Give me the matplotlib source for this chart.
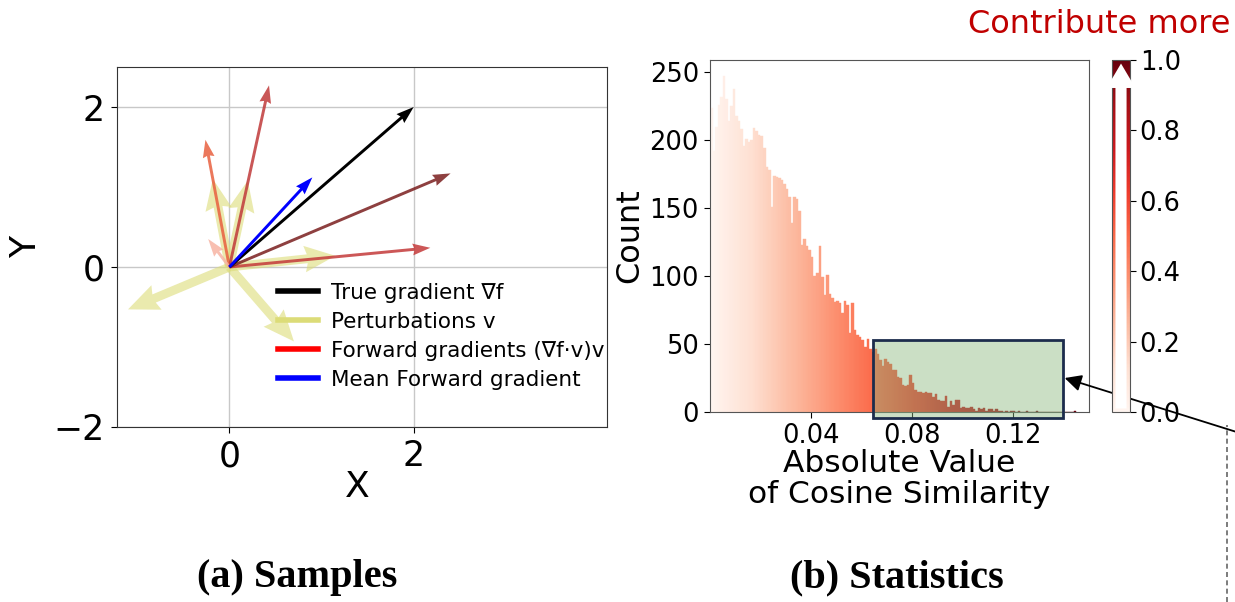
import numpy as np
import matplotlib
matplotlib.use("Agg")
import matplotlib.pyplot as plt
from matplotlib.colors import Normalize
from matplotlib.cm import ScalarMappable
from matplotlib.patches import Rectangle
from matplotlib.lines import Line2D

# ---- (a) sample vectors ----
true_grad = (2.0, 2.0)
mean_grad = (0.9, 1.12)
pert_u = [-0.18, 0.20, 1.15, -1.10, 0.70]
pert_v = [1.10, 1.08, 0.14, -0.53, -0.93]
fwd_u = [-0.26, 0.43, 2.18, 2.40, -0.23]
fwd_v = [1.59, 2.27, 0.24, 1.17, 0.35]
fwd_colors = ["#e8603f", "#c03a3a", "#c43a3a", "#7a1e1e", "#f7b4a4"]
legend_labels = ["True gradient \u2207f", "Perturbations v",
                 "Forward gradients (\u2207f\u00b7v)v", "Mean Forward gradient"]

# ---- (b) histogram of |cos sim| ----
bin_width = 0.001
counts = [
    224, 192, 210, 226, 232, 247, 230, 214, 225, 238,
    218, 214, 208, 196, 201, 199, 200, 209, 207, 204,
    203, 194, 180, 178, 151, 174, 173, 172, 171, 168,
    164, 158, 139, 158, 157, 148, 123, 127, 122, 119,
    114, 100, 102, 122, 99, 86, 101, 87, 84, 81,
    82, 80, 73, 82, 79, 58, 80, 60, 57, 55,
    53, 48, 54, 46, 44, 46, 43, 38, 34, 39,
    37, 35, 31, 31, 26, 25, 20, 19, 20, 27,
    21, 16, 15, 15, 14, 15, 14, 14, 11, 13,
    9, 8, 8, 12, 4, 8, 5, 9, 9, 3,
    4, 3, 3, 4, 2, 1, 3, 2, 3, 1,
    2, 2, 1, 2, 1, 1, 0, 1, 0, 1,
    1, 0, 1, 0, 0, 1, 0, 0, 0, 1,
    0, 0, 0, 0, 0, 0, 0, 0, 0, 0,
    0, 0, 0, 0, 1,
]
edges = np.arange(len(counts) + 1) * bin_width
cbar_ticks = [0.0, 0.2, 0.4, 0.6, 0.8, 1.0]

fig = plt.figure(figsize=(12.35, 6.02), dpi=100)

# ---------------- panel (a) ----------------
ax = fig.add_axes([0.0947, 0.2907, 0.397, 0.598])
ax.set_xlim(-1.22, 4.1)
ax.set_ylim(-2, 2.5)
ax.set_xticks([0, 2])
ax.set_yticks([-2, 0, 2])
ax.grid(True, color="#c8c8c8", lw=1)
ax.set_axisbelow(True)

ax.quiver([0] * len(pert_u), [0] * len(pert_u), pert_u, pert_v,
          angles="xy", scale_units="xy", scale=1, color="#dcdc78",
          alpha=0.6, width=0.018, headwidth=3, headlength=3.5,
          headaxislength=3.2, zorder=2)
ax.quiver([0] * len(fwd_u), [0] * len(fwd_u), fwd_u, fwd_v,
          angles="xy", scale_units="xy", scale=1, color=fwd_colors,
          alpha=0.85, width=0.006, headwidth=4, headlength=6,
          headaxislength=5.5, zorder=3)
ax.quiver([0], [0], [true_grad[0]], [true_grad[1]],
          angles="xy", scale_units="xy", scale=1, color="black",
          width=0.006, headwidth=4, headlength=6, headaxislength=5.5, zorder=4)
ax.quiver([0], [0], [mean_grad[0]], [mean_grad[1]],
          angles="xy", scale_units="xy", scale=1, color="blue",
          width=0.006, headwidth=4, headlength=6, headaxislength=5.5, zorder=5)

handles = [Line2D([], [], color=c, lw=4) for c in ["black", "#dcdc78", "red", "blue"]]
ax.legend(handles, legend_labels, loc="upper left", bbox_to_anchor=(0.31, 0.425),
          frameon=False, fontsize=15.5, handlelength=1.9, labelspacing=0.42,
          handletextpad=0.6, borderaxespad=0)

ax.tick_params(labelsize=25, length=4, pad=5)
ax.set_xlabel("X", fontsize=26)
ax.set_ylabel("Y", fontsize=26)
ax.xaxis.set_label_coords(0.49, -0.12)
ax.yaxis.set_label_coords(-0.15, 0.5)
for s in ax.spines.values():
    s.set_color("#333333")

# ---------------- panel (b) ----------------
bx = fig.add_axes([0.5749, 0.3156, 0.3066, 0.5847])
norm_x = Normalize(0.0, 0.13)
bar_colors = plt.cm.Reds(norm_x(edges[:-1] + bin_width / 2))
bx.bar(edges[:-1], counts, width=bin_width, align="edge", color=bar_colors,
       edgecolor=bar_colors, linewidth=0.3)
bx.set_xlim(0.0, 0.15)
bx.set_ylim(0, 259)
bx.set_xticks([0.04, 0.08, 0.12])
bx.set_xticklabels(["0.04", "0.08", "0.12"])
bx.set_yticks([0, 50, 100, 150, 200, 250])
bx.tick_params(labelsize=18.5, length=4, pad=4)
bx.set_xlabel("Absolute Value\nof Cosine Similarity", fontsize=22.5, linespacing=1.1)
bx.set_ylabel("Count", fontsize=23)
bx.xaxis.set_label_coords(0.5, -0.105)
bx.yaxis.set_label_coords(-0.17, 0.5)
for s in bx.spines.values():
    s.set_color("#555555")

box = Rectangle((0.0646, -4.2), 0.0751, 57.2, facecolor=(0.55, 0.72, 0.5),
                alpha=0.45, edgecolor="none", clip_on=False, zorder=3)
bx.add_patch(box)
bx.add_patch(Rectangle((0.0646, -4.2), 0.0751, 57.2, facecolor="none",
                       edgecolor="#1c2c4c", lw=2, clip_on=False, zorder=4))

bx.annotate("", xy=(0.1405, 25), xycoords="data",
            xytext=(1.005, 0.28), textcoords="figure fraction",
            arrowprops=dict(arrowstyle="-|>", color="black", lw=1.3,
                            mutation_scale=25, shrinkA=0, shrinkB=0),
            annotation_clip=False, zorder=6)
fig.add_artist(Line2D([0.9935, 0.9935], [0.0, 0.294], color="#666666",
                      lw=1.2, ls=(0, (3, 2))))

# colorbar
cax = fig.add_axes([0.9004, 0.3156, 0.0146, 0.5847])
cb = fig.colorbar(ScalarMappable(Normalize(0, 1), "Reds"), cax=cax, ticks=cbar_ticks)
cb.ax.tick_params(labelsize=18.5, length=4, pad=3)
cb.ax.set_yticklabels(["%.1f" % t for t in cbar_ticks])
cb.outline.set_edgecolor("#555555")
cax.annotate("", xy=(0.5, 0.99), xytext=(0.5, 0.01), xycoords="axes fraction",
             arrowprops=dict(arrowstyle="simple,head_width=1.3,head_length=1.1,tail_width=0.5",
                             color="white", lw=0, mutation_scale=16, shrinkA=0, shrinkB=0))

fig.text(0.996, 0.96, "Contribute more", color="#c00000", fontsize=23,
         ha="right", va="center")

# captions
fig.text(0.2405, 0.04, "(a) Samples", fontsize=29, fontweight="bold",
         family="Liberation Serif", ha="center", va="center")
fig.text(0.726, 0.04, "(b) Statistics", fontsize=29, fontweight="bold",
         family="Liberation Serif", ha="center", va="center")

fig.savefig("out.png", dpi=100)
